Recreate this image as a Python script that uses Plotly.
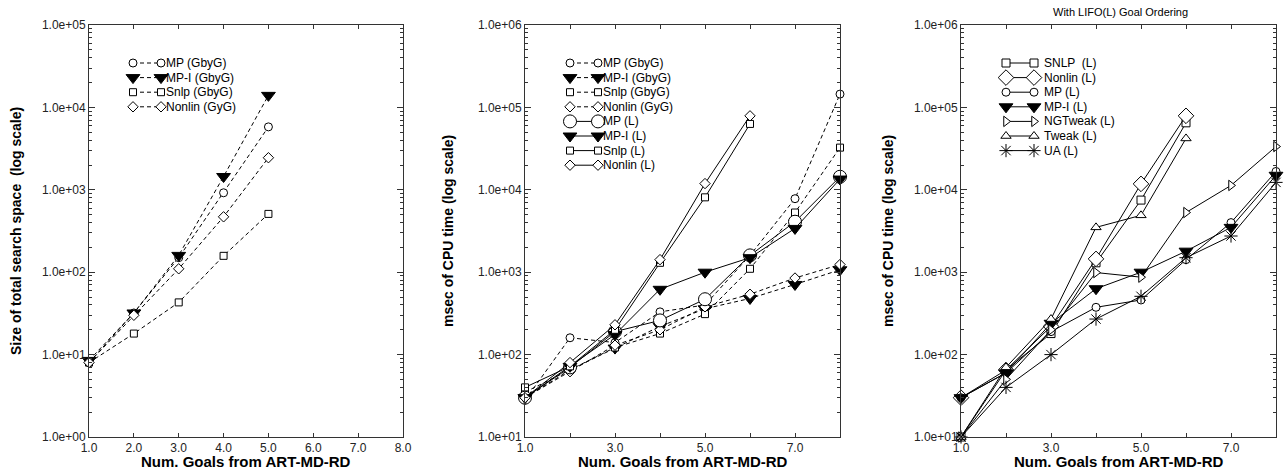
import plotly.graph_objects as go
from plotly.subplots import make_subplots

# ---- data ----
goals5 = [1, 2, 3, 4, 5]
goals6 = [1, 2, 3, 4, 5, 6]
goals8 = [1, 2, 3, 4, 5, 6, 7, 8]

# panel 1: size of total search space
space_mp = [8, 32, 150, 920, 5800]
space_mpi = [8.5, 32, 160, 1450, 14000]
space_snlp = [8, 18, 43, 158, 510]
space_nonlin = [8, 30, 110, 470, 2450]

# panel 2: cpu time, GbyG and LIFO
cpu_mp_g = [28, 160, 140, 330, 400, 1600, 7800, 145000]
cpu_mpi_g = [30, 65, 120, 220, 360, 480, 710, 1070]
cpu_snlp_g = [35, 65, 122, 180, 310, 1100, 5300, 32500]
cpu_nonlin_g = [30, 62, 130, 200, 380, 540, 850, 1240]
cpu_mp_l = [30, 70, 190, 260, 470, 1600, 4100, 14400]
cpu_mpi_l = [30, 72, 175, 620, 1000, 1500, 3400, 13500]
cpu_snlp_l = [40, 72, 200, 1300, 8100, 63000]
cpu_nonlin_l = [30, 80, 230, 1420, 11900, 79000]

# panel 3: cpu time, LIFO planners
lifo_snlp = [10, 65, 180, 1300, 7500, 65000]
lifo_nonlin = [30, 65, 220, 1450, 11800, 79000]
lifo_mp = [30, 60, 190, 375, 460, 1420, 4000, 16700]
lifo_mpi = [30, 60, 240, 630, 1000, 1800, 3500, 15000]
lifo_ngtweak = [10, 50, 200, 990, 870, 5300, 11300, 33500]
lifo_tweak = [10, 70, 270, 3500, 4900, 42000]
lifo_ua = [10, 40, 100, 270, 510, 1500, 2750, 12300]

FONT = "Liberation Sans, Arial, sans-serif"
W, H = 1288, 470
TOP, BOTTOM = 25, 437   # plot area in pixels
DASH = "4px,3px"

# marker styles: (symbol, size, fill)
CIRC = ("circle", 8, "white")
CIRC_BIG = ("circle", 13, "white")
TRI = ("triangle-down", 12, "black")
SQ = ("square", 7, "white")
SQ_R = ("square", 8, "white")
DIA = ("diamond", 8, "white")
DIA_BIG = ("diamond", 12, "white")
RTRI = ("triangle-right", 9, "white")
UTRI = ("triangle-up", 9, "white")
STAR = ("asterisk-open", 11, "black")

panels = [
    [(goals5, space_mp, "MP (GbyG)", CIRC, DASH),
     (goals5, space_mpi, "MP-I (GbyG)", TRI, DASH),
     (goals5, space_snlp, "Snlp (GbyG)", SQ, DASH),
     (goals5, space_nonlin, "Nonlin (GyG)", DIA, DASH)],
    [(goals8, cpu_mp_g, "MP (GbyG)", CIRC, DASH),
     (goals8, cpu_mpi_g, "MP-I (GbyG)", TRI, DASH),
     (goals8, cpu_snlp_g, "Snlp (GbyG)", SQ, DASH),
     (goals8, cpu_nonlin_g, "Nonlin (GyG)", DIA, DASH),
     (goals8, cpu_mp_l, "MP (L)", CIRC_BIG, "solid"),
     (goals8, cpu_mpi_l, "MP-I (L)", TRI, "solid"),
     (goals6, cpu_snlp_l, "Snlp (L)", SQ, "solid"),
     (goals6, cpu_nonlin_l, "Nonlin (L)", DIA, "solid")],
    [(goals6, lifo_snlp, "SNLP  (L)", SQ_R, "solid"),
     (goals6, lifo_nonlin, "Nonlin (L)", DIA_BIG, "solid"),
     (goals8, lifo_mp, "MP (L)", CIRC, "solid"),
     (goals8, lifo_mpi, "MP-I (L)", TRI, "solid"),
     (goals8, lifo_ngtweak, "NGTweak (L)", RTRI, "solid"),
     (goals8, lifo_tweak, "Tweak (L)", UTRI, "solid"),
     (goals8, lifo_ua, "UA (L)", STAR, "solid")],
]

# axis positions (pixels) and legend anchors (marker-1 x, first row y, text offset)
xpix = [(89, 403), (525, 840), (961, 1276)]
legend_at = [(133, 63, 31), (570, 63, 31), (1006, 63, 36)]
ytitle_x = [16, 448, 888]
ytitles = ["Size of total search space  (log scale)",
           "msec of CPU time (log scale)",
           "msec of CPU time (log scale)"]
ymin = [0, 1, 1]
ymax = [5, 6, 6]

fig = make_subplots(rows=1, cols=3)


def style(st, dash):
    sym, size, fill = st
    return (dict(color="black", width=1, dash=dash),
            dict(symbol=sym, size=size, color=fill, line=dict(color="black", width=1)))


for i, series in enumerate(panels):
    for x, y, name, st, dash in series:
        ln, mk = style(st, dash)
        fig.add_trace(go.Scatter(x=x, y=y, name=name, mode="lines+markers",
                                 line=ln, marker=mk, cliponaxis=False,
                                 showlegend=False), row=1, col=i + 1)

# legend drawn on a pixel-scaled overlay axis (marker -- line -- marker)
annotations = []
for i, series in enumerate(panels):
    lx, ly, tx = legend_at[i]
    for k, (_, _, name, st, dash) in enumerate(series):
        ln, mk = style(st, dash)
        yy = ly + k * 14.6
        fig.add_trace(go.Scatter(x=[lx, lx + 28], y=[yy, yy], mode="lines+markers",
                                 line=ln, marker=mk, showlegend=False, hoverinfo="skip",
                                 xaxis="x4", yaxis="y4", cliponaxis=False))
        annotations.append(dict(text=name, x=lx + tx, y=yy, xref="x4", yref="y4",
                                xanchor="left", yanchor="middle", showarrow=False,
                                font=dict(family=FONT, size=12, color="black")))

for i in range(3):
    x0, x1 = xpix[i]
    xlabels = ["%.1f" % v for v in range(1, 9)]
    if i > 0:
        xlabels = [t if (k % 2 == 0) else "" for k, t in enumerate(xlabels)]
    fig.update_xaxes(
        domain=[x0 / W, x1 / W], range=[1, 8], tickvals=list(range(1, 9)), ticktext=xlabels,
        ticks="inside", ticklen=4, mirror="allticks", showline=True, automargin=False,
        linecolor="#333", linewidth=1, tickcolor="#333", showgrid=False, zeroline=False,
        tickfont=dict(family=FONT, size=12, color="#222"),
        row=1, col=i + 1)
    decades = list(range(ymin[i], ymax[i] + 1))
    fig.update_yaxes(
        type="log", range=[ymin[i], ymax[i]],
        tickvals=[10 ** d for d in decades],
        ticktext=["1.0e+%02d" % d for d in decades],
        ticks="inside", ticklen=6, mirror="allticks", showline=True, automargin=False,
        linecolor="#333", linewidth=1, tickcolor="#333", showgrid=False, zeroline=False,
        minor=dict(ticks="inside", ticklen=3, tickcolor="#333", showgrid=False,
                   tickvals=[m * 10 ** d for d in decades[:-1] for m in range(2, 10)]),
        tickfont=dict(family=FONT, size=12, color="#222"),
        row=1, col=i + 1)
    annotations.append(dict(text="<b>Num. Goals from ART-MD-RD</b>", xref="paper", yref="paper",
                            x=(x0 + x1) / 2 / W, y=0, yshift=-24, showarrow=False,
                            xanchor="center", yanchor="middle",
                            font=dict(family=FONT, size=15, color="black")))
    annotations.append(dict(text="<b>" + ytitles[i] + "</b>", xref="paper", yref="paper",
                            x=ytitle_x[i] / W, y=0.5, textangle=-90, showarrow=False,
                            xanchor="center", yanchor="middle",
                            font=dict(family=FONT, size=14, color="black")))

annotations.append(dict(text="With LIFO(L) Goal Ordering", xref="paper", yref="paper",
                        x=1120 / W, y=1.0, yshift=13, showarrow=False,
                        xanchor="center", yanchor="middle",
                        font=dict(family=FONT, size=11, color="black")))

fig.update_layout(
    width=W, height=H,
    margin=dict(l=0, r=0, t=TOP, b=H - BOTTOM),
    plot_bgcolor="rgba(0,0,0,0)", paper_bgcolor="white",
    showlegend=False,
    xaxis4=dict(domain=[0, 1], range=[0, W], visible=False, anchor="y4", fixedrange=True),
    yaxis4=dict(domain=[0, 1], range=[BOTTOM, TOP], visible=False, anchor="x4", fixedrange=True),
    annotations=annotations,
)

# drop the browser's default 8px body margin so the figure sits at the page corner
fig.write_html("out.html", config={"displayModeBar": False},
               post_script="document.body.style.margin='0';")
